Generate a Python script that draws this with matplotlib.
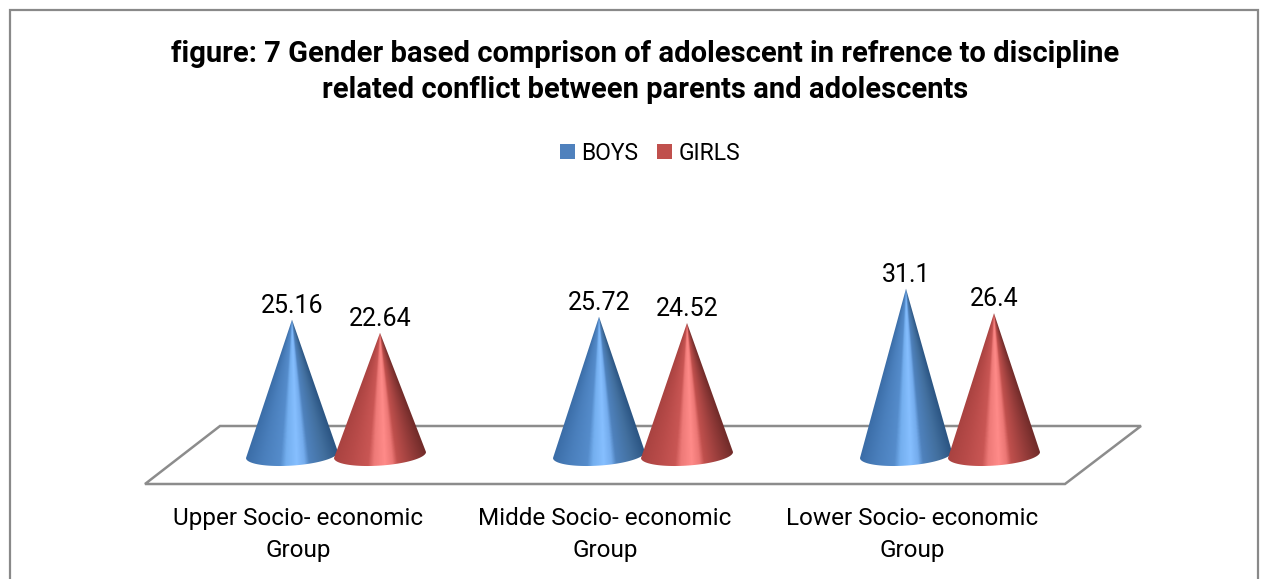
import numpy as np
import matplotlib
matplotlib.use("Agg")
import matplotlib.pyplot as plt
from matplotlib.colors import LinearSegmentedColormap
from matplotlib.patches import Patch, Rectangle, Polygon

groups = ["Upper Socio- economic\nGroup", "Midde Socio- economic\nGroup", "Lower Socio- economic\nGroup"]
boys = [25.16, 25.72, 31.1]
girls = [22.64, 24.52, 26.4]
title = ("figure: 7 Gender based comprison of adolescent in refrence to discipline\n"
         "related conflict between parents and adolescents")

plt.rcParams["font.family"] = ["Roboto", "DejaVu Sans"]

W, H = 1268, 579
fig = plt.figure(figsize=(W / 100, H / 100), dpi=100)

# frame round the whole chart
fig.add_artist(Rectangle((10 / W, -0.02), 1248 / W, 1.02 - 10 / H, transform=fig.transFigure,
                         fill=False, ec="#898989", lw=1.6))

ax = fig.add_axes([182.5 / W, (H - 451) / H, 921 / W, 261 / H])
ax.set_xlim(-0.5, 2.5)
ax.set_ylim(0, 50)
PX = 3 / 921    # data x per pixel
PY = 50 / 261   # data y per pixel

for s in ax.spines.values():
    s.set_visible(False)
ax.set_yticks([])
# labels sit under the front edge of the floor, not under the cones
ax.set_xticks([i - 38 * PX for i in range(len(groups))])
ax.set_xticklabels(groups, fontsize=17.5, color="black", linespacing=1.55)
ax.tick_params(axis="x", length=0, pad=40)

# floor of the 3d plot
fx = np.array([-37.5, 882.5, 958.5, 37.5]) * PX - 0.5
fy = np.array([-33, -33, 25, 25]) * PY
ax.add_patch(Polygon(np.c_[fx, fy], closed=True, fill=False, ec="#8c8c8c", lw=1.8,
                     clip_on=False, zorder=1))

blue = LinearSegmentedColormap.from_list("b", [(0, "#3a6ca6"), (0.2, "#4a7fbc"), (0.38, "#558ccb"),
                                               (0.44, "#74afef"), (0.55, "#86bfff"), (0.63, "#74aced"),
                                               (0.68, "#4f82bd"), (0.85, "#426f9e"), (1, "#2c5684")])
red = LinearSegmentedColormap.from_list("r", [(0, "#a84240"), (0.2, "#b84b49"), (0.38, "#c95654"),
                                              (0.44, "#ee7a78"), (0.55, "#ff8b89"), (0.63, "#ec7775"),
                                              (0.68, "#c0504d"), (0.85, "#953c3a"), (1, "#722c2a")])


def cone(xc, val, cmap, z):
    a, b, tilt = 46, 10.6, 3
    base = -4 * PY
    low = -20 * PY
    t = np.linspace(np.pi, 2 * np.pi, 60)
    ex = xc + a * np.cos(t) * PX
    ey = base + (b * np.sin(t) + tilt * np.cos(t)) * PY
    pts = np.r_[[[xc, val]], np.c_[ex, ey]]
    clip = Polygon(pts, closed=True, transform=ax.transData, fc="none", ec="none", zorder=z)
    ax.add_patch(clip)
    # shading bands run together at the tip of the cone
    xs = np.linspace(-1, 1, 300)
    ys = np.linspace(val, low, 400)
    frac = np.maximum((val - ys) / (val - base), 1e-3)
    shade = (np.clip(xs[None, :] / frac[:, None], -1, 1) + 1) / 2
    im = ax.imshow(shade, cmap=cmap, vmin=0, vmax=1, aspect="auto", zorder=z, interpolation="bilinear",
                   extent=[xc - a * PX, xc + a * PX, low, val])
    im.set_clip_path(clip)
    im.set_clip_box(fig.bbox)


for i in range(len(groups)):
    cone(i - 44 * PX, boys[i], blue, 3)
    cone(i + 44 * PX, girls[i], red, 4)
    ax.annotate(f"{boys[i]:g}", (i - 44 * PX, boys[i]), xytext=(0, 1.5), textcoords="offset points",
                ha="center", va="bottom", fontsize=18)
    ax.annotate(f"{girls[i]:g}", (i + 44 * PX, girls[i]), xytext=(0, 1.5), textcoords="offset points",
                ha="center", va="bottom", fontsize=18)
ax.set_xlim(-0.5, 2.5)
ax.set_ylim(0, 50)

fig.text(645 / W, 1 - 72 / H, title, ha="center", va="center", fontsize=21, fontweight="bold",
         linespacing=1.33)
fig.legend(handles=[Patch(fc="#4f81bd", label="BOYS"), Patch(fc="#c0504d", label="GIRLS")],
           loc="center", bbox_to_anchor=(650 / W, 1 - 153 / H), ncol=2, frameon=False, fontsize=16.5,
           handlelength=0.65, handleheight=0.65, handletextpad=0.3, columnspacing=0.8)

fig.savefig("out.png", dpi=100)
